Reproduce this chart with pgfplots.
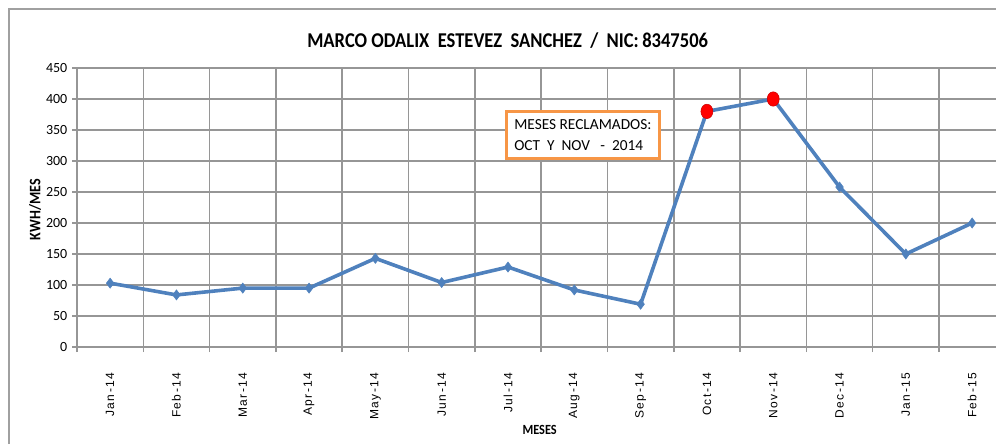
\documentclass[border=0pt]{standalone}
\usepackage{pgfplots}
\pgfplotsset{compat=1.18}
\usepackage{fontspec}
\setmainfont{Carlito}
\newfontfamily\titlefont[FakeStretch=0.88]{Carlito}
\newfontfamily\tickfont[LetterSpace=12]{Liberation Sans}
\definecolor{exblue}{RGB}{79,129,189}
\definecolor{exorange}{RGB}{247,150,70}
\definecolor{gridgray}{RGB}{150,150,150}
\begin{document}
\begin{tikzpicture}
\useasboundingbox (-57.75pt,-72.75pt) rectangle (689.25pt,260.25pt);
\draw[gridgray!90, line width=1.2pt] (-51pt,-72.75pt) -- (-51pt,253.5pt) -- (689.25pt,253.5pt);
\begin{axis}[
  at={(0pt,0pt)}, anchor=south west,
  scale only axis, width=689.25pt, height=209.25pt,
  xmin=-0.5, xmax=13.36, ymin=0, ymax=450,
  axis lines*=left,
  axis line style={gridgray, line width=1.2pt},
  ytick={0,50,...,450},
  xtick={0,...,13},
  xticklabels={Jan-14,Feb-14,Mar-14,Apr-14,May-14,Jun-14,Jul-14,Aug-14,Sep-14,Oct-14,Nov-14,Dec-14,Jan-15,Feb-15},
  minor xtick={-0.5,0.5,...,13.5},
  ymajorgrids=true, xminorgrids=true,
  grid style={gridgray, line width=1.2pt},
  minor grid style={gridgray, line width=1.2pt},
  tick align=outside,
  major tick length=3.75pt, minor tick length=3.75pt,
  major x tick style={draw=none},
  minor x tick style={gridgray, line width=1.2pt},
  major y tick style={gridgray, line width=1.2pt},
  xticklabel style={rotate=90, anchor=east, font=\tickfont\fontsize{9}{10}\selectfont},
  xticklabel shift={12pt},
  yticklabel style={font=\fontsize{10.5}{12}\selectfont},
  /pgf/number format/assume math mode=true,
  clip=false,
]
\addplot[exblue, line width=2.7pt, mark=diamond*, mark size=3.8pt,
  mark options={solid, fill=exblue, draw=exblue, line width=0.4pt}]
  coordinates {(0,103)(1,84)(2,95)(3,95)(4,143)(5,104)(6,129)(7,92)(8,69)(9,380)(10,400)(11,258)(12,150)(13,200)};
\addplot[only marks, mark=ellipse, mark=*, mark size=4.5pt,
  mark options={fill=red, draw=red!80!black, line width=0.4pt, yscale=1.2}]
  coordinates {(9,380)(10,400)};
\node[draw=exorange, line width=1.9pt, fill=white, align=left,
  inner xsep=6pt, inner ysep=6pt, font=\fontsize{11.5}{16}\selectfont]
  at (axis cs:7.13,342) {MESES RECLAMADOS:\\OCT\ \ Y\ \ NOV\ \ \ -\ \ 2014};
\end{axis}
\node[font=\titlefont\bfseries\fontsize{15.8}{18}\selectfont] at (323pt,230pt)
  {MARCO ODALIX\ \ ESTEVEZ\ \ SANCHEZ\ \ /\ \ NIC:\,8347506};
\node[rotate=90, font=\titlefont\bfseries\fontsize{12}{14}\selectfont] at (-31.5pt,103pt) {KWH/MES};
\node[font=\titlefont\bfseries\fontsize{10.5}{12}\selectfont] at (347pt,-62pt) {MESES};
\end{tikzpicture}
\end{document}
